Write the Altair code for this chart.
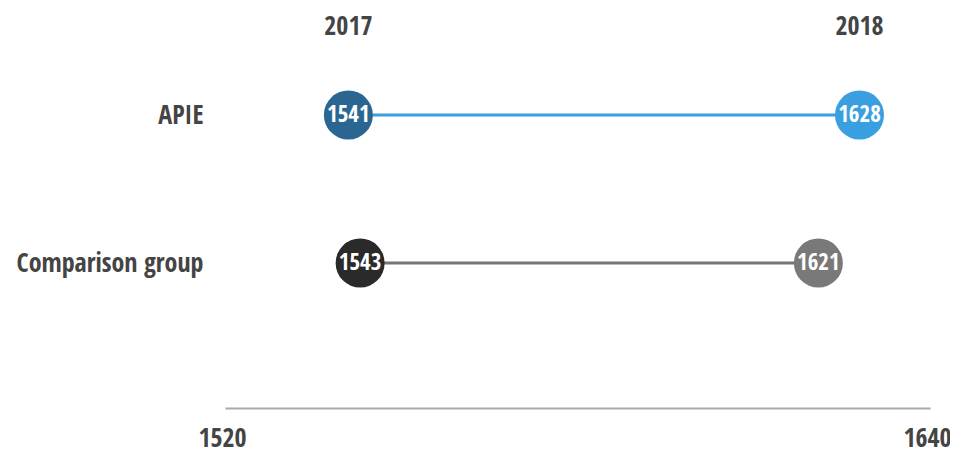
import altair as alt
import pandas as pd

groups = ["APIE", "Comparison group"]
years = ["2017", "2018"]
apie_values = [1541, 1628]
comparison_values = [1543, 1621]
x_ticks = [1520, 1640]

point_keys = ["APIE 2017", "APIE 2018", "Comparison group 2017", "Comparison group 2018"]
point_colors = ["#2b6693", "#3a9fe0", "#2a2a2a", "#797979"]
line_colors = ["#3a9fe0", "#757575"]

rows = []
for g, vals in zip(groups, [apie_values, comparison_values]):
    for yr, v in zip(years, vals):
        rows.append({"group": g, "year": yr, "value": v, "key": f"{g} {yr}"})
df = pd.DataFrame(rows)

FONT = "'Liberation Sans Narrow', 'Open Sans Condensed', 'Roboto Condensed', 'DejaVu Sans Condensed', sans-serif"
TXT = "#444444"

x_enc = alt.X(
    "value:Q",
    scale=alt.Scale(domain=[1520, 1640], nice=False, zero=False),
    axis=alt.Axis(
        values=x_ticks, title=None, grid=False, ticks=False, format="d",
        domainColor="#aaaaaa", domainWidth=2,
        labelFont=FONT, labelFontSize=26, labelFontWeight="bold",
        labelColor=TXT, labelPadding=17, labelFlush=False, labelOffset=-3,
    ),
)
y_enc = alt.Y(
    "group:N",
    scale=alt.Scale(type="point", domain=groups, range=[107, 255], padding=0),
    axis=alt.Axis(
        title=None, domain=False, ticks=False, grid=False, labelLimit=0,
        labelFont=FONT, labelFontSize=26, labelFontWeight="bold",
        labelColor=TXT, labelPadding=22,
    ),
)

base = alt.Chart(df)

lines = base.mark_line(strokeWidth=3).encode(
    x=x_enc, y=y_enc,
    color=alt.Color("group:N", scale=alt.Scale(domain=groups, range=line_colors), legend=None),
    detail="group:N",
)

points = base.mark_circle(size=2400, opacity=1).encode(
    x=x_enc, y=y_enc,
    color=alt.Color("key:N", scale=alt.Scale(domain=point_keys, range=point_colors), legend=None),
)

labels = base.mark_text(font=FONT, fontSize=23, fontWeight="bold", color="white",
                        baseline="middle", align="center").encode(
    x=x_enc, y=y_enc, text="value:Q",
)

year_labels = base.transform_filter(alt.datum.group == "APIE").mark_text(
    font=FONT, fontSize=26, fontWeight="bold", color=TXT, baseline="middle", align="center"
).encode(
    x=x_enc, y=alt.value(19), text="year:N",
)

chart = (
    alt.layer(lines, points, labels, year_labels)
    .resolve_scale(color="independent")
    .properties(
        width=705, height=400,
        autosize=alt.AutoSizeParams(type="none"),
        padding={"left": 217, "top": 0, "right": 20, "bottom": 41},
        background="white",
    )
    .configure_view(stroke=None)
)

chart.save("out.html", embed_options={"renderer": "svg", "actions": False})
